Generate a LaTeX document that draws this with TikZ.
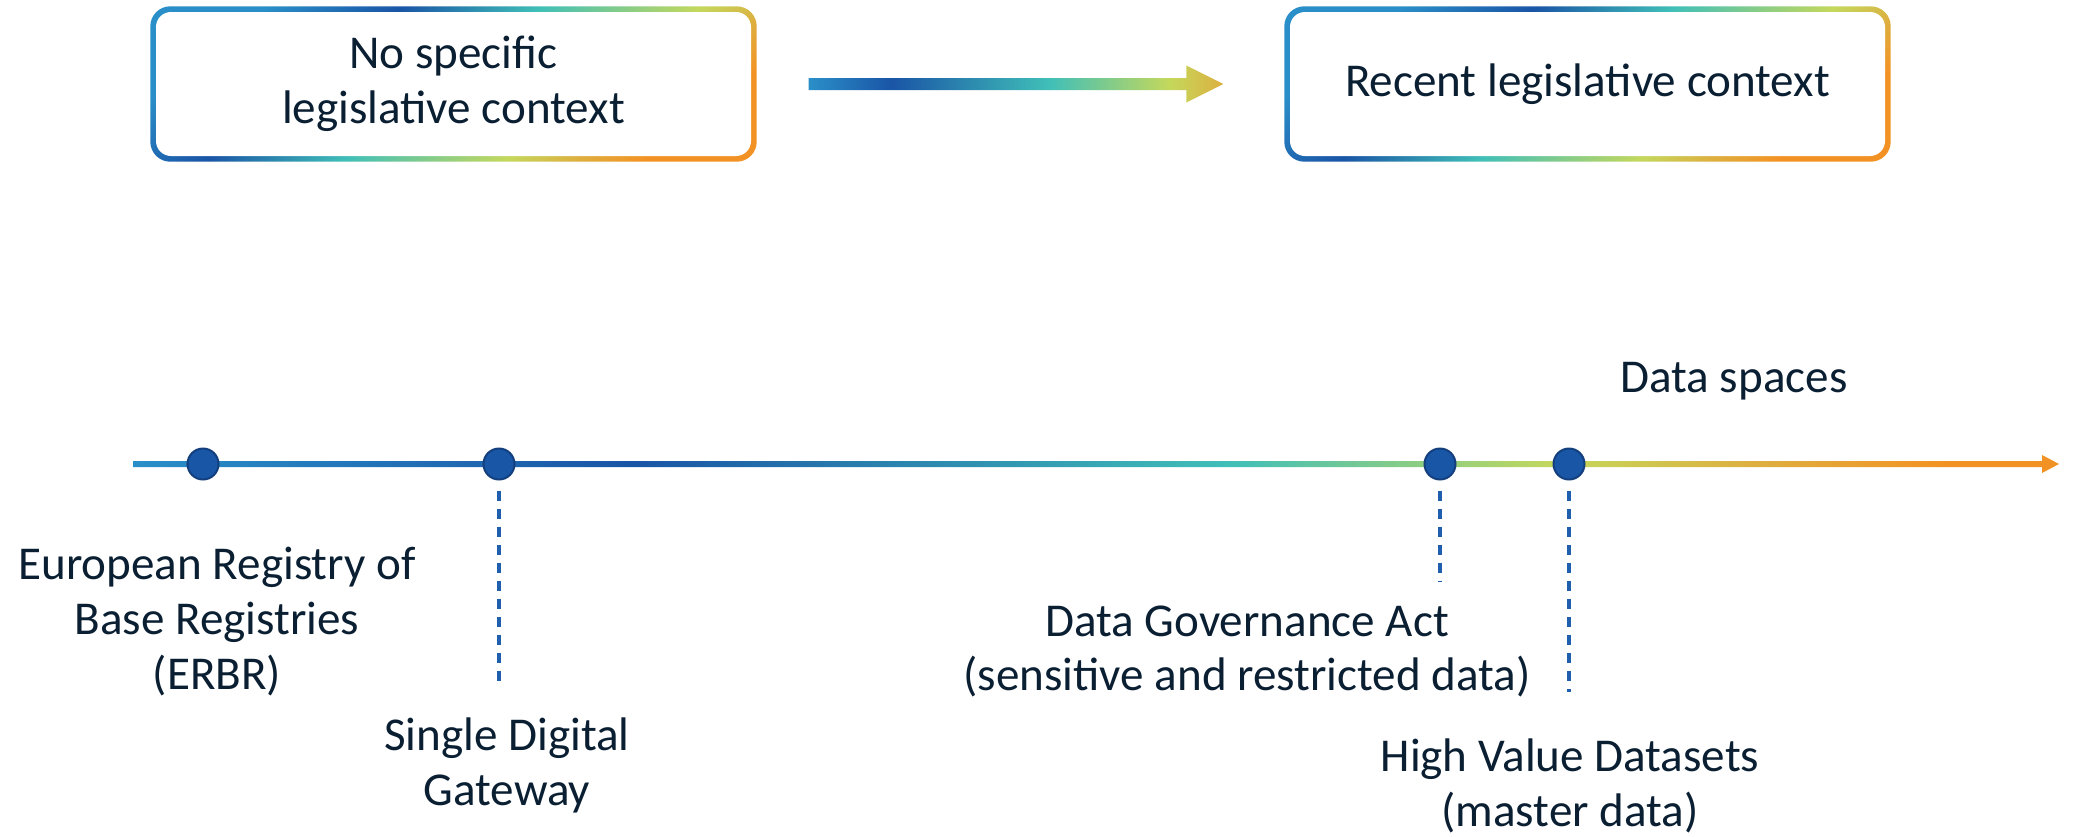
\documentclass[tikz,border=0pt]{standalone}
\usepackage{fontspec}
\setmainfont{Carlito}
\usetikzlibrary{calc,backgrounds}

\definecolor{ink}{HTML}{0B1F33}
\definecolor{lblue}{HTML}{2A8FC8}
\definecolor{dblue}{HTML}{1A55A6}
\definecolor{gteal}{HTML}{40BFB8}
\definecolor{lime}{HTML}{C4D85C}
\definecolor{gold}{HTML}{DDB040}
\definecolor{orng}{HTML}{F39224}
\definecolor{dotblue}{HTML}{1957A6}
\definecolor{dotedge}{HTML}{143F7E}
\definecolor{tickblue}{HTML}{1F5FAD}

\pgfdeclarehorizontalshading{boxgrad}{100bp}{color(0bp)=(lblue); color(25bp)=(lblue); color(37bp)=(dblue); color(49bp)=(gteal); color(63bp)=(lime); color(69bp)=(gold); color(75bp)=(orng); color(100bp)=(orng)}
\pgfdeclarehorizontalshading{arrowgrad}{100bp}{color(0bp)=(lblue); color(25bp)=(lblue); color(35bp)=(dblue); color(54bp)=(gteal); color(68.5bp)=(lime); color(75bp)=(gold); color(100bp)=(gold)}
\pgfdeclarehorizontalshading{linegrad}{100bp}{color(0bp)=(lblue); color(25bp)=(lblue); color(38bp)=(dblue); color(53.5bp)=(gteal); color(62bp)=(lime); color(67bp)=(gold); color(72bp)=(orng); color(100bp)=(orng)}

\newcommand{\lblfont}{\fontsize{13.4pt}{15.6pt}\selectfont}

\tikzset{
  legbox/.style={rectangle, rounded corners=0.15cm, fill=white, minimum width=5.95cm,
    minimum height=1.44cm, align=center, text=ink, font=\lblfont},
  dot/.style={circle, fill=dotblue, draw=dotedge, line width=0.02cm, minimum size=0.31cm, inner sep=0},
  tick/.style={draw=tickblue, line width=0.035cm, dash pattern=on 0.1cm off 0.08cm},
  lbl/.style={align=center, text=ink, font=\lblfont, inner sep=0}
}

\begin{document}
\begin{tikzpicture}
    \useasboundingbox (0,0) rectangle (20.98,8.36);

    % Context boxes
    \node[legbox] (nocontext) at (4.535,7.52) {No specific\\legislative context};
    \node[legbox] (recent) at (15.875,7.52) {Recent legislative context};

    % Gradient borders behind the boxes
    \begin{scope}[on background layer]
        \foreach \b in {nocontext,recent} {
            \shade[shading=boxgrad, shading angle=-52, rounded corners=0.2cm]
                ($(\b.south west)+(-0.05,-0.05)$) rectangle ($(\b.north east)+(0.05,0.05)$);
        }
    \end{scope}

    % Arrow between the boxes
    \coordinate (astart) at ($(nocontext.east)+(0.57,0)$);
    \coordinate (aend) at ($(recent.west)+(-0.66,0)$);
    \shade[shading=arrowgrad] ($(astart)+(0,0.06)$) -- ($(aend)+(-0.37,0.06)$)
        -- ($(aend)+(-0.37,0.185)$) -- (aend) -- ($(aend)+(-0.37,-0.185)$)
        -- ($(aend)+(-0.37,-0.06)$) -- ($(astart)+(0,-0.06)$) -- cycle;

    % Timeline
    \coordinate (tstart) at (1.33,3.72);
    \coordinate (tend) at (20.59,3.72);
    \shade[shading=linegrad] ($(tstart)+(0,0.03)$) -- ($(tend)+(-0.17,0.03)$)
        -- ($(tend)+(-0.17,0.09)$) -- (tend) -- ($(tend)+(-0.17,-0.09)$)
        -- ($(tend)+(-0.17,-0.03)$) -- ($(tstart)+(0,-0.03)$) -- cycle;

    % Milestones
    \node[dot] (erbr) at (2.03,3.72) {};
    \node[dot] (sdg) at (4.99,3.72) {};
    \node[dot] (dga) at (14.40,3.72) {};
    \node[dot] (hvd) at (15.69,3.72) {};

    % Dashed ticks
    \coordinate (sdgend) at (4.99,1.50);
    \coordinate (dgaend) at (14.40,2.55);
    \coordinate (hvdend) at (15.69,1.44);
    \draw[tick, shorten <=0.1cm] (sdg.south) -- (sdgend);
    \draw[tick, shorten <=0.1cm] (dga.south) -- (dgaend);
    \draw[tick, shorten <=0.1cm] (hvd.south) -- (hvdend);

    % Labels
    \node[lbl] (erbrlabel) at (2.17,2.145) {European Registry of\\Base Registries\\(ERBR)};
    \node[lbl] (sdglabel) at (5.07,0.705) {Single Digital\\Gateway};
    \node[lbl] (dgalabel) at (12.47,1.845) {Data Governance Act\\(sensitive and restricted data)};
    \node[lbl] (hvdlabel) at (15.70,0.50) {High Value Datasets\\(master data)};
    \node[lbl, anchor=base] (spaces) at (17.34,4.44) {Data spaces};
\end{tikzpicture}
\end{document}
